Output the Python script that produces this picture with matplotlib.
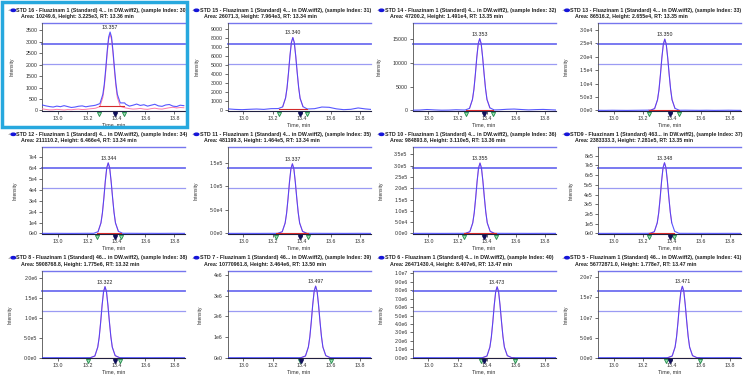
import numpy as np
import matplotlib
matplotlib.use("Agg")
import matplotlib.pyplot as plt
from matplotlib import font_manager as fm
from matplotlib.patches import Rectangle, Circle
from matplotlib.transforms import blended_transform_factory

# ---------------- data ----------------
title_line1 = [
    "STD 16 - Fluazinam 1 (Standard) 4... in DW.wiff2), (sample Index: 30)",
    "STD 15 - Fluazinam 1 (Standard) 4... in DW.wiff2), (sample Index: 31)",
    "STD 14 - Fluazinam 1 (Standard) 4... in DW.wiff2), (sample Index: 32)",
    "STD 13 - Fluazinam 1 (Standard) 4... in DW.wiff2), (sample Index: 33)",
    "STD 12 - Fluazinam 1 (Standard) 4... in DW.wiff2), (sample Index: 34)",
    "STD 11 - Fluazinam 1 (Standard) 4... in DW.wiff2), (sample Index: 35)",
    "STD 10 - Fluazinam 1 (Standard) 4... in DW.wiff2), (sample Index: 36)",
    "STD9 - Fluazinam 1 (Standard) 463... in DW.wiff2), (sample Index: 37)",
    "STD 8 - Fluazinam 1 (Standard) 46... in DW.wiff2), (sample Index: 38)",
    "STD 7 - Fluazinam 1 (Standard) 46... in DW.wiff2), (sample Index: 39)",
    "STD 6 - Fluazinam 1 (Standard) 4... in DW.wiff2), (sample Index: 40)",
    "STD 5 - Fluazinam 1 (Standard) 46... in DW.wiff2), (sample Index: 41)",
]
areas = ["10249.6", "26071.3", "47200.2", "86516.2", "211110.2", "481199.3",
         "984893.8", "2383333.3", "5908768.8", "10770961.8", "26471430.4", "56772871.0"]
heights = ["3.225e3", "7.964e3", "1.491e4", "2.655e4", "6.466e4", "1.464e5",
           "3.110e5", "7.281e5", "1.775e6", "3.464e6", "8.407e6", "1.778e7"]
rt_text = ["13.36", "13.34", "13.35", "13.35", "13.34", "13.34",
           "13.36", "13.35", "13.32", "13.50", "13.47", "13.47"]
peak_rt = [13.357, 13.340, 13.353, 13.350, 13.344, 13.337,
           13.355, 13.348, 13.322, 13.497, 13.473, 13.471]

y_top = [3800, 9620, 18200, 32500, 79100, 182400, 380500, 887000, 2.174e6, 4.21e6, 1.031e7, 2.165e7]
ytick_max = [3500, 9000, 15000, 3.0e4, 7e4, 1.5e5, 3.5e5, 8e5, 2.0e6, 4e6, 1.0e7, 2.0e7]
ytick_step = [500, 1000, 5000, 5e3, 1e4, 5e4, 5e4, 1e5, 5e5, 1e6, 1e6, 5e6]
ytick_style = ["int", "int", "int", "e1", "e0", "e1", "e1", "e0", "e1", "e0", "e1", "e1"]

x_ticks = [13.0, 13.2, 13.4, 13.6, 13.8]
x_range = [12.89, 13.875]

int_start = [13.28, 13.245, 13.256, 13.24, 13.266, 13.224, 13.247, 13.24, 13.205, 13.39, 13.361, 13.361]
int_end = [13.45, 13.435, 13.446, 13.446, 13.429, 13.442, 13.462, 13.416, 13.424, 13.603, 13.594, 13.594]
expected_rt = [13.39, 13.386, 13.384, 13.384, 13.393, 13.389, 13.384, 13.384, 13.393, 13.394, 13.384, 13.384]
int_level = [210, 120, 80, 60, 150, 300, 600, 1500, 3000, 6000, 15000, 30000]

# peak readings at offsets from the retention time
peak_dt = [-0.10, -0.07, -0.05, -0.04, -0.03, -0.02, -0.01, 0.0, 0.01, 0.02, 0.03, 0.04, 0.05, 0.07, 0.10]
peak_1 = [230, 300, 700, 1150, 1820, 2590, 3200, 3420, 3200, 2590, 1850, 1180, 700, 330, 330]
peak_1_smooth = [100, 170, 570, 1020, 1700, 2480, 3100, 3320, 3100, 2480, 1720, 1050, 560, 180, 120]
peak_2 = [210, 400, 1380, 2480, 4130, 6000, 7500, 8050, 7500, 6000, 4200, 2550, 1350, 420, 160]
peak_3 = [100, 450, 2300, 4400, 7550, 11150, 13970, 15000, 13960, 11120, 7700, 4560, 2300, 550, 110]
peak_4 = [80, 700, 4000, 7700, 13300, 19700, 24700, 26600, 24700, 19700, 13570, 8000, 4000, 800, 80]
peak_5 = [150, 1600, 9700, 18800, 32400, 48000, 60300, 64800, 60300, 47950, 33050, 19400, 9700, 1950, 150]
peak_6 = [300, 3700, 22100, 42800, 73800, 109200, 137200, 147500, 137100, 109100, 75200, 44300, 22100, 4400, 300]
peak_7 = [650, 7800, 46700, 90200, 155500, 230100, 289200, 311000, 289200, 230100, 158600, 93300, 46700, 9300, 650]
peak_8 = [1500, 18200, 109200, 211100, 364000, 538700, 677000, 728000, 677000, 538700, 371300, 218400, 109200, 21800, 1500]
peak_9 = [3500, 44400, 266400, 515000, 888000, 1314000, 1651700, 1776000, 1651700, 1314000, 905800, 532800, 266400, 53300, 3500]
peak_10 = [7000, 86600, 519600, 1004600, 1732000, 2563400, 3221500, 3464000, 3221500, 2563400, 1766600, 1039200, 519600, 103900, 7000]
peak_11 = [17000, 210000, 1261000, 2438000, 4203500, 6221200, 7818500, 8407000, 7818500, 6221200, 4287600, 2522100, 1261000, 252200, 17000]
peak_12 = [35000, 444500, 2667000, 5156200, 8890000, 13157000, 16535000, 17780000, 16535000, 13157000, 9067800, 5334000, 2667000, 533400, 35000]

# baseline readings (None = inside the peak window, covered by the peak readings)
p1_base_t = [12.890, 12.915, 12.940, 12.965, 12.990, 13.015, 13.040, 13.065, 13.090, 13.115,
             13.140, 13.165, 13.190, 13.215, 13.240, 13.265, 13.290, 13.315, 13.340, 13.365,
             13.390, 13.415, 13.440, 13.465, 13.490, 13.515, 13.540, 13.565, 13.590, 13.615,
             13.640, 13.665, 13.690, 13.715, 13.740, 13.765, 13.790, 13.815, 13.840, 13.865]
base_1 = [240, 200, 170, 150, 190, 165, 210, 170, 130, 150,
          185, 200, 160, 190, 210, None, None, None, None, None,
          None, None, None, 270, 190, 230, 280, 220, 250, 190,
          230, 270, 200, 180, 240, 260, 190, 170, 230, 210]
base_1_smooth = [70, 45, 25, 30, 50, 35, 20, 40, 30, 50,
                 60, 40, 50, 70, 85, None, None, None, None, None,
                 None, None, None, 110, 80, 60, 70, 90, 60, 50,
                 80, 100, 70, 60, 90, 120, 140, 110, 130, 120]

base_t = [12.89, 12.94, 12.99, 13.04, 13.09, 13.14, 13.19, 13.24, 13.29, 13.34, 13.39,
          13.44, 13.49, 13.54, 13.59, 13.64, 13.69, 13.74, 13.79, 13.84, 13.875]
base_2 = [180, 120, 90, 130, 160, 120, 200, None, None, None, None, None, 200, 380, 350, 180, 90, 130, 280, 170, 120]
base_3 = [60, 90, 200, 120, 60, 80, 150, 100, None, None, None, None, 150, 250, 300, 200, 120, 180, 220, 150, 100]
base_4 = [60, 40, 80, 50, 30, 60, 90, 120, None, None, None, None, 100, 70, 50, 80, 40, 60, 90, 50, 40]
base_5 = [120, 90, 150, 100, 80, 110, 160, None, None, None, None, None, 180, 130, 100, 150, 90, 120, 160, 110, 90]
base_6 = [250, 200, 300, 220, 180, 240, 300, None, None, None, None, None, 350, 280, 220, 300, 200, 250, 320, 240, 200]
base_7 = [500, 400, 600, 450, 380, 480, 600, 700, None, None, None, None, 650, 550, 450, 600, 400, 500, 620, 480, 400]
base_8 = [1100, 900, 1300, 1000, 850, 1050, 1300, 1500, None, None, None, None, 1400, 1200, 1000, 1300, 900, 1100, 1350, 1050, 900]
base_9 = [2500, 2000, 3000, 2300, 2000, 2400, 3000, None, None, None, None, 3200, 2800, 2400, 2900, 2100, 2500, 3100, 2400, 2100, 2000]
base_10 = [5000, 4000, 6000, 4600, 3900, 4800, 6000, 6500, 6000, 5500, 5000, None, None, None, None, 5200, 4500, 5000, 6000, 4800, 4000]
base_11 = [12000, 10000, 14000, 11000, 9500, 11500, 14000, 15000, 14000, 13000, None, None, None, None, 12000, 11000, 10000, 12000, 14000, 11000, 10000]
base_12 = [25000, 20000, 29000, 23000, 19500, 24000, 29000, 31000, 29000, 27000, None, None, None, None, 25000, 23000, 21000, 25000, 29000, 23000, 20000]

peak_sets = [peak_1, peak_2, peak_3, peak_4, peak_5, peak_6, peak_7, peak_8, peak_9, peak_10, peak_11, peak_12]
base_sets = [base_1, base_2, base_3, base_4, base_5, base_6, base_7, base_8, base_9, base_10, base_11, base_12]

# ---------------- fonts ----------------
def available(name):
    try:
        fm.findfont(fm.FontProperties(family=name), fallback_to_default=False)
        return True
    except Exception:
        return False

if available("Liberation Sans Narrow"):
    FONT = "Liberation Sans Narrow"
    scale = 1.0
else:
    FONT = "Liberation Sans"
    scale = 0.82
plt.rcParams["font.family"] = [FONT, "DejaVu Sans"]

TITLE_FS = 4.6 * scale
TICK_FS = 4.6 * scale
LABEL_FS = 4.6 * scale

# ---------------- layout ----------------
W, H = 750, 378
fig = plt.figure(figsize=(W / 100, H / 100), dpi=100)
fig.patch.set_facecolor("white")

col_left = [42.3, 227.5, 412.5, 598.0]
ax_w = 143.0
row_tb = [(23.3, 111.0), (147.3, 234.0), (270.7, 358.3)]

BLUE = "#3a3aff"
PINK = "#ff7aa8"
RED = "#d42a2a"
LINE_C = "#7676ee"


def fx(px):
    return px / W


def fy(py):
    return 1 - py / H


def fmt_tick(v, style):
    if style == "int":
        return f"{int(round(v))}"
    d = 1 if style == "e1" else 0
    if v == 0:
        return f"{0:.{d}f}e0"
    e = int(np.floor(np.log10(v) + 1e-9))
    m = v / 10 ** e
    return f"{m:.{d}f}e{e}"


def merged(bt, bv, rt, pv):
    pts = [(t, v) for t, v in zip(bt, bv) if v is not None]
    pts += [(rt + d, v) for d, v in zip(peak_dt, pv)]
    pts.sort()
    return [p[0] for p in pts], [p[1] for p in pts]


for i in range(12):
    r, c = divmod(i, 4)
    top, bot = row_tb[r]
    left = col_left[c]
    ax = fig.add_axes([fx(left), fy(bot), ax_w / W, (bot - top) / H])
    ymax = y_top[i]
    rt = peak_rt[i]

    bt = p1_base_t if i == 0 else base_t
    t, v = merged(bt, base_sets[i], rt, peak_sets[i])

    if i == 0:
        ts, vs = merged(p1_base_t, base_1_smooth, rt, peak_1_smooth)
        ax.plot(ts, vs, color=PINK, lw=0.7, zorder=3)
    else:
        sel = [(a, b) for a, b in zip(t, v) if int_start[i] <= a <= int_end[i]]
        ax.plot([a for a, b in sel], [b for a, b in sel], color=PINK, lw=0.7, zorder=3)
    ax.plot(t, v, color=BLUE, lw=0.8, alpha=0.85, zorder=4)

    # integration baseline
    ax.plot([int_start[i], int_end[i]], [int_level[i], int_level[i]], color=RED, lw=0.8, zorder=5)

    # threshold lines
    for frac, lw, col in [(1.0, 1.0, LINE_C), (0.767, 1.3, "#6e6ef0"), (0.535, 0.9, "#9b9bf3")]:
        ax.plot([0, 1], [frac, frac], transform=ax.transAxes, color=col, lw=lw, clip_on=False, zorder=2)

    # peak label
    apex = max(peak_sets[i])
    ax.annotate(f"{rt:.3f}", xy=(rt, apex), xytext=(0, 1.5), textcoords="offset points",
                ha="center", va="bottom", fontsize=TICK_FS, color="#202020", zorder=6)

    # markers below axis
    tr = blended_transform_factory(ax.transData, ax.transAxes)
    for xm in (int_start[i], int_end[i]):
        ax.plot([xm], [-0.035], marker="v", ms=3.0, mfc="#9be0b0", mec="#1f8a4a", mew=0.6,
                transform=tr, clip_on=False, zorder=7)
    ax.plot([expected_rt[i]], [-0.035], marker="v", ms=2.8, mfc="#10105a", mec="#10105a",
            transform=tr, clip_on=False, zorder=8)

    ax.set_xlim(*x_range)
    ax.set_ylim(-0.006 * ymax, ymax)
    ax.set_xticks(x_ticks)
    ax.set_xticklabels([f"{x:.1f}" for x in x_ticks])
    yt = np.arange(0, ytick_max[i] + ytick_step[i] * 0.5, ytick_step[i])
    ax.set_yticks(yt)
    ax.set_yticklabels([fmt_tick(val, ytick_style[i]) for val in yt])
    ax.tick_params(axis="both", labelsize=TICK_FS, length=2, width=0.5, pad=1.5, colors="#303030")
    for s in ("top", "right"):
        ax.spines[s].set_visible(False)
    ax.spines["left"].set_color("#505050")
    ax.spines["left"].set_linewidth(0.6)
    ax.spines["bottom"].set_color("#202040")
    ax.spines["bottom"].set_linewidth(0.8)
    ax.set_facecolor("none")

    ax.set_xlabel("Time, min", fontsize=LABEL_FS, labelpad=1, color="#303030")
    ax.set_ylabel("Intensity", fontsize=LABEL_FS - 0.3, labelpad=8, color="#303030")

    # titles
    tl = left - 28 if c > 0 else left - 26
    fig.text(fx(tl - 7), fy(top - 13), "+", fontsize=TITLE_FS - 1, color="#606060",
             ha="center", va="center")
    fig.add_artist(Circle((fx(tl - 3), fy(top - 13)), 2.3 / W, transform=fig.transFigure,
                          color="#1414d8", zorder=10))
    fig.text(fx(tl), fy(top - 13), title_line1[i], fontsize=TITLE_FS, fontweight="bold",
             color="#202020", ha="left", va="center")
    fig.text(fx(tl + 5), fy(top - 6.5),
             f"Area: {areas[i]}, Height: {heights[i]}, RT: {rt_text[i]} min",
             fontsize=TITLE_FS, fontweight="bold", color="#202020", ha="left", va="center")

# selection frame around first panel
fig.add_artist(Rectangle((fx(1.5), fy(126.5)), 185.5 / W, 125 / H, fill=False,
                         ec="#27a8de", lw=2.5, transform=fig.transFigure, zorder=20))

fig.savefig("out.png", dpi=100)
